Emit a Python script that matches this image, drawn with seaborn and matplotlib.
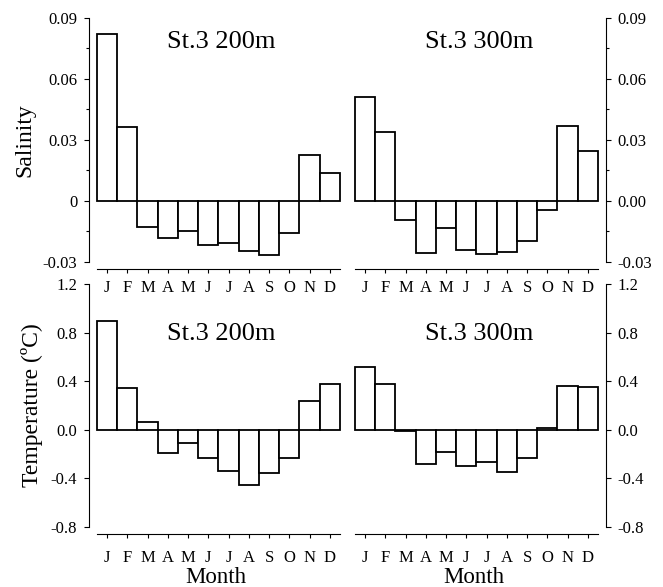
import matplotlib
matplotlib.use("Agg")
import matplotlib.pyplot as plt
import seaborn as sns
import pandas as pd

# Monthly anomalies at station 3
months = ["Jan", "Feb", "Mar", "Apr", "May", "Jun",
          "Jul", "Aug", "Sep", "Oct", "Nov", "Dec"]
month_letters = ["J", "F", "M", "A", "M", "J", "J", "A", "S", "O", "N", "D"]

salinity_200m = [0.082, 0.0362, -0.0128, -0.0181, -0.0148, -0.0217,
                 -0.0209, -0.0246, -0.0267, -0.0157, 0.0226, 0.0138]
salinity_300m = [0.0511, 0.0338, -0.0094, -0.0257, -0.0132, -0.0242,
                 -0.0260, -0.0252, -0.0198, -0.0044, 0.0367, 0.0246]
temperature_200m = [0.895, 0.344, 0.066, -0.193, -0.110, -0.237,
                    -0.339, -0.455, -0.353, -0.234, 0.234, 0.377]
temperature_300m = [0.518, 0.377, -0.011, -0.281, -0.187, -0.300,
                    -0.262, -0.347, -0.234, 0.011, 0.364, 0.350]

panel_titles = ["St.3 200m", "St.3 300m"]

sal_ticks = [-0.03, 0.0, 0.03, 0.06, 0.09]
sal_minor = [-0.015, 0.015, 0.045, 0.075]
sal_labels_left = ["-0.03", "0", "0.03", "0.06", "0.09"]
sal_labels_right = ["-0.03", "0.00", "0.03", "0.06", "0.09"]
temp_ticks = [-0.8, -0.4, 0.0, 0.4, 0.8, 1.2]
temp_labels = ["-0.8", "-0.4", "0.0", "0.4", "0.8", "1.2"]

sns.set_style("ticks", {"axes.edgecolor": "black", "text.color": "black",
                        "xtick.color": "black", "ytick.color": "black",
                        "axes.labelcolor": "black"})
plt.rcParams["font.family"] = ["Liberation Serif", "DejaVu Serif"]
plt.rcParams["axes.linewidth"] = 0.8

fig = plt.figure(figsize=(6.63, 5.87), dpi=100)

W = 0.3665
lefts = [0.1463, 0.5354]
rows = [(0.5542, 0.4152), (0.1027, 0.4129)]

panels = [
    [salinity_200m, salinity_300m],
    [temperature_200m, temperature_300m],
]

for r, (bottom, height) in enumerate(rows):
    for c, left in enumerate(lefts):
        ax = fig.add_axes([left, bottom, W, height])
        ax.set_facecolor("none")
        df = pd.DataFrame({"month": months, "value": panels[r][c]})
        sns.barplot(data=df, x="month", y="value", order=months, ax=ax,
                    width=1.0, color="white", edgecolor="black",
                    linewidth=1.3, saturation=1, errorbar=None)
        for p in ax.patches:
            p.set_clip_on(False)
        ax.set_xlim(-0.5, 11.5)
        ax.set_xticks(range(12))
        ax.set_xticklabels(month_letters)

        if r == 0:
            ax.set_ylim(-0.03, 0.09)
            ax.set_yticks(sal_ticks)
            ax.set_yticklabels(sal_labels_left if c == 0 else sal_labels_right)
            ax.set_yticks(sal_minor, minor=True)
            title_y = 0.90
            xpad = 4.5
        else:
            ax.set_ylim(-0.8, 1.2)
            ax.set_yticks(temp_ticks)
            ax.set_yticklabels(temp_labels)
            title_y = 0.795
            xpad = 8

        if c == 0:
            sns.despine(ax=ax, offset=5.5)
            ax.yaxis.set_ticks_position("left")
        else:
            sns.despine(ax=ax, left=True, right=False, offset=5.5)
            ax.yaxis.set_ticks_position("right")
            ax.yaxis.set_label_position("right")

        ax.tick_params(axis="y", which="major", length=3.3, width=0.8,
                       pad=5.5, labelsize=12, direction="out")
        ax.tick_params(axis="y", which="minor", length=1.9, width=0.8,
                       direction="out")
        ax.tick_params(axis="x", which="major", length=3, width=0.8,
                       pad=xpad, labelsize=12, direction="out")
        ax.tick_params(axis="x", which="minor", bottom=False)

        ax.text(0.51, title_y, panel_titles[c], transform=ax.transAxes,
                ha="center", va="center", fontsize=19)

        ax.set_ylabel("")
        ax.set_xlabel("")
        if c == 0:
            ax.set_ylabel("Salinity" if r == 0 else "Temperature (\u00baC)",
                          fontsize=17)
            ax.yaxis.set_label_coords(-0.255 if r == 0 else -0.222, 0.5)
        if r == 1:
            ax.set_xlabel("Month", fontsize=16.5)
            ax.xaxis.set_label_coords(0.49, -0.166)

fig.savefig("out.png", dpi=100)
